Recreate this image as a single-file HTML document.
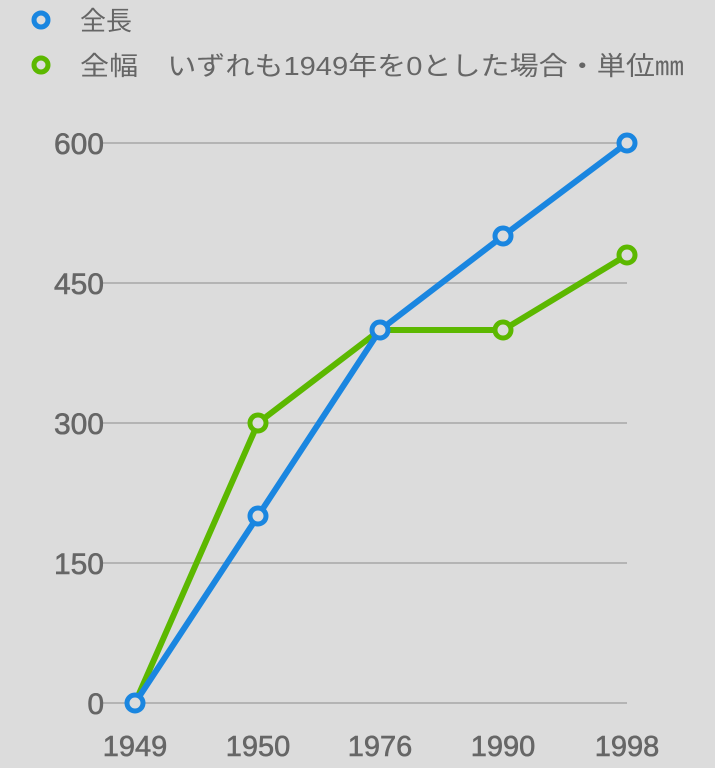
<!DOCTYPE html>
<html><head><meta charset="utf-8"><style>
html,body{margin:0;padding:0;background:#dcdcdc;}
svg{display:block}
text{font-family:"Liberation Sans","Noto Sans CJK JP",sans-serif;fill:#666;}
</style></head><body>
<svg width="715" height="768" viewBox="0 0 715 768">
<rect width="715" height="768" fill="#dcdcdc"/>
<circle cx="41" cy="20" r="7" fill="#dcdcdc" stroke="#1a86e0" stroke-width="5"/>
<text x="80" y="30" font-size="26">全長</text>
<circle cx="41" cy="65" r="7" fill="#dcdcdc" stroke="#5cb800" stroke-width="5"/>
<text x="80" y="75" font-size="26" textLength="604" lengthAdjust="spacingAndGlyphs">全幅　いずれも1949年を0とした場合・単位㎜</text>
<g stroke="#b4b4b4" stroke-width="2">
<line x1="100" y1="143" x2="627" y2="143"/>
<line x1="100" y1="283" x2="627" y2="283"/>
<line x1="100" y1="423" x2="627" y2="423"/>
<line x1="100" y1="563" x2="627" y2="563"/>
<line x1="100" y1="703" x2="627" y2="703"/>
</g>
<g font-size="30" text-anchor="end" style="stroke:#666;stroke-width:0.6">
<text x="104" y="154">600</text>
<text x="104" y="294">450</text>
<text x="104" y="434">300</text>
<text x="104" y="574">150</text>
<text x="104" y="714">0</text>
</g>
<g font-size="29" text-anchor="middle" style="stroke:#666;stroke-width:0.6">
<text x="135" y="756">1949</text>
<text x="258" y="756">1950</text>
<text x="380" y="756">1976</text>
<text x="503" y="756">1990</text>
<text x="627" y="756">1998</text>
</g>
<polyline points="135,703 258,423 380,330 503,330 627,255" fill="none" stroke="#5cb800" stroke-width="6" stroke-linejoin="round"/>
<polyline points="135,703 258,516 380,330 503,236 627,143" fill="none" stroke="#1a86e0" stroke-width="6" stroke-linejoin="round"/>
<g fill="#dcdcdc" stroke="#5cb800" stroke-width="5">
<circle cx="258" cy="423" r="8"/><circle cx="503" cy="330" r="8"/><circle cx="627" cy="255" r="8"/>
</g>
<g fill="#dcdcdc" stroke="#1a86e0" stroke-width="5">
<circle cx="135" cy="703" r="8"/><circle cx="258" cy="516" r="8"/><circle cx="380" cy="330" r="8"/><circle cx="503" cy="236" r="8"/><circle cx="627" cy="143" r="8"/>
</g>
</svg>
</body></html>
